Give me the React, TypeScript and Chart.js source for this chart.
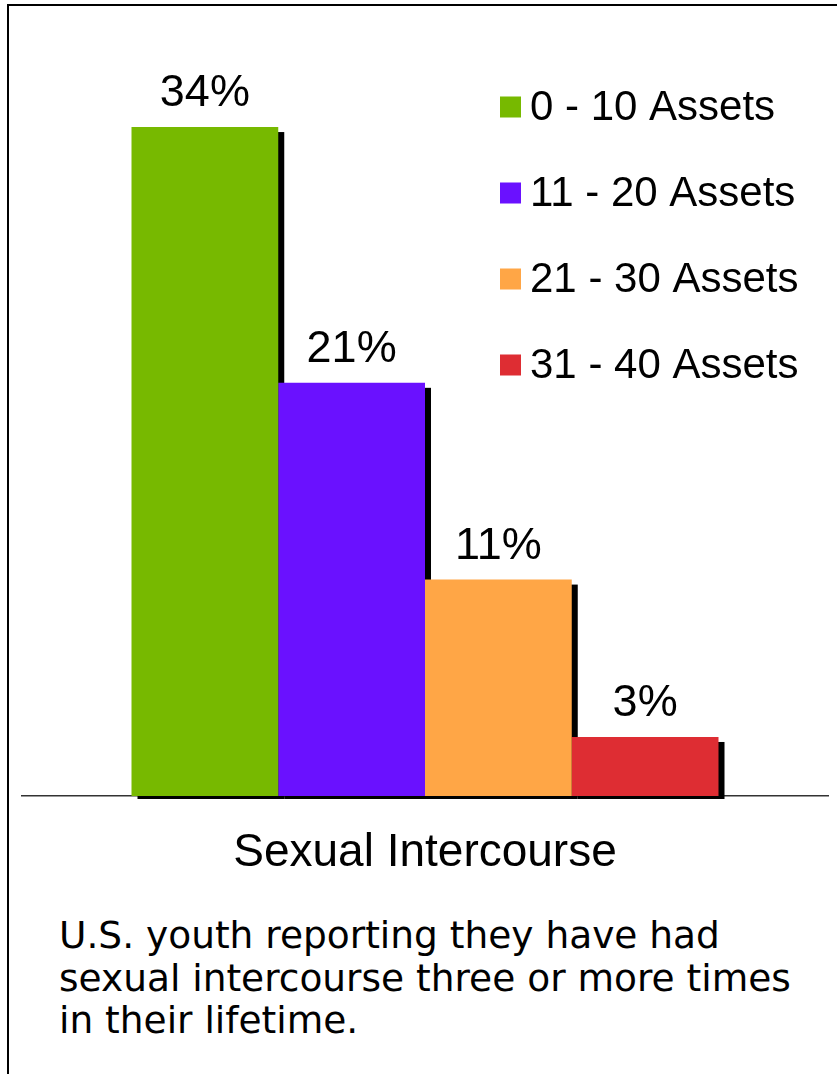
import React, { useEffect, useRef } from "react";
import { Chart, registerables } from "chart.js";

Chart.register(...registerables);

const categories = ["Sexual Intercourse"];
const seriesNames = ["0 - 10 Assets", "11 - 20 Assets", "21 - 30 Assets", "31 - 40 Assets"];
const seriesValues = [34, 21, 11, 3];
const seriesColors = ["#77B900", "#6A11FF", "#FFA646", "#DE2D33"];
const captionLines = [
  "U.S. youth reporting they have had",
  "sexual intercourse three or more times",
  "in their lifetime.",
];

const FONT = "'Liberation Sans', Arial, Helvetica, sans-serif";

const shadowPlugin = {
  id: "barShadow",
  beforeDatasetsDraw(chart: any) {
    const ctx = chart.ctx;
    ctx.save();
    ctx.fillStyle = "#000";
    chart.data.datasets.forEach((_ds: any, i: number) => {
      const meta = chart.getDatasetMeta(i);
      meta.data.forEach((bar: any) => {
        const { x, y, base, width } = bar.getProps(["x", "y", "base", "width"], true);
        const left = x - width / 2;
        ctx.fillRect(left + 6, y + 5, width, base - y - 2);
      });
    });
    ctx.restore();
  },
};

const valueLabelPlugin = {
  id: "valueLabels",
  afterDatasetsDraw(chart: any) {
    const ctx = chart.ctx;
    ctx.save();
    ctx.fillStyle = "#000";
    ctx.font = `45px ${FONT}`;
    ctx.textAlign = "center";
    ctx.textBaseline = "alphabetic";
    chart.data.datasets.forEach((ds: any, i: number) => {
      const meta = chart.getDatasetMeta(i);
      meta.data.forEach((bar: any, j: number) => {
        const { x, y } = bar.getProps(["x", "y"], true);
        ctx.fillText(`${ds.data[j]}%`, x, y - 21);
      });
    });
    ctx.restore();
  },
};

const legendPlugin = {
  id: "insideLegend",
  afterDraw(chart: any) {
    const ctx = chart.ctx;
    ctx.save();
    ctx.font = `42px ${FONT}`;
    ctx.textAlign = "left";
    ctx.textBaseline = "middle";
    chart.data.datasets.forEach((ds: any, i: number) => {
      const cy = 107 + i * 86;
      ctx.fillStyle = ds.backgroundColor;
      ctx.fillRect(500, cy - 10.5, 21, 21);
      ctx.fillStyle = "#000";
      ctx.fillText(ds.label, 530, cy + 1);
    });
    ctx.restore();
  },
};

export default function App() {
  const canvasRef = useRef<HTMLCanvasElement | null>(null);

  useEffect(() => {
    if (!canvasRef.current) return;
    const chart = new Chart(canvasRef.current, {
      type: "bar",
      data: {
        labels: categories,
        datasets: seriesNames.map((name, i) => ({
          label: name,
          data: [seriesValues[i]],
          backgroundColor: seriesColors[i],
          borderWidth: 0,
          categoryPercentage: 587 / 806,
          barPercentage: 1,
        })),
      },
      options: {
        responsive: false,
        animation: false,
        layout: { padding: { left: 22, right: 9, top: 9, bottom: 0 } },
        plugins: {
          legend: { display: false },
          tooltip: { enabled: false },
          title: { display: false },
        },
        scales: {
          x: {
            grid: { display: false, drawTicks: false },
            border: { display: true, color: "#333", width: 1.5 },
            ticks: {
              color: "#000",
              font: { family: FONT, size: 46 },
              padding: 30,
              maxRotation: 0,
            },
            afterFit: (scale: any) => {
              scale.height = 84;
            },
          },
          y: {
            display: false,
            min: 0,
            max: 40,
          },
        },
      },
      plugins: [shadowPlugin, valueLabelPlugin, legendPlugin],
    });
    return () => chart.destroy();
  }, []);

  return (
    <div
      style={{
        position: "absolute",
        left: 0,
        top: 0,
        width: 837,
        height: 1074,
        background: "#fff",
        overflow: "hidden",
      }}
    >
      <div
        style={{
          position: "absolute",
          left: 7,
          top: 4,
          right: -10,
          bottom: -10,
          borderLeft: "2px solid #000",
          borderTop: "2px solid #000",
        }}
      />
      <canvas
        ref={canvasRef}
        width={837}
        height={880}
        style={{ position: "absolute", left: 0, top: 0, width: 837, height: 880 }}
      />
      <div
        style={{
          position: "absolute",
          left: 59,
          top: 914,
          fontFamily: "'DejaVu Sans', Verdana, sans-serif",
          fontSize: 37.5,
          lineHeight: "42.5px",
          color: "#000",
          whiteSpace: "nowrap",
        }}
      >
        {captionLines.map((l, i) => (
          <div key={i}>{l}</div>
        ))}
      </div>
    </div>
  );
}
